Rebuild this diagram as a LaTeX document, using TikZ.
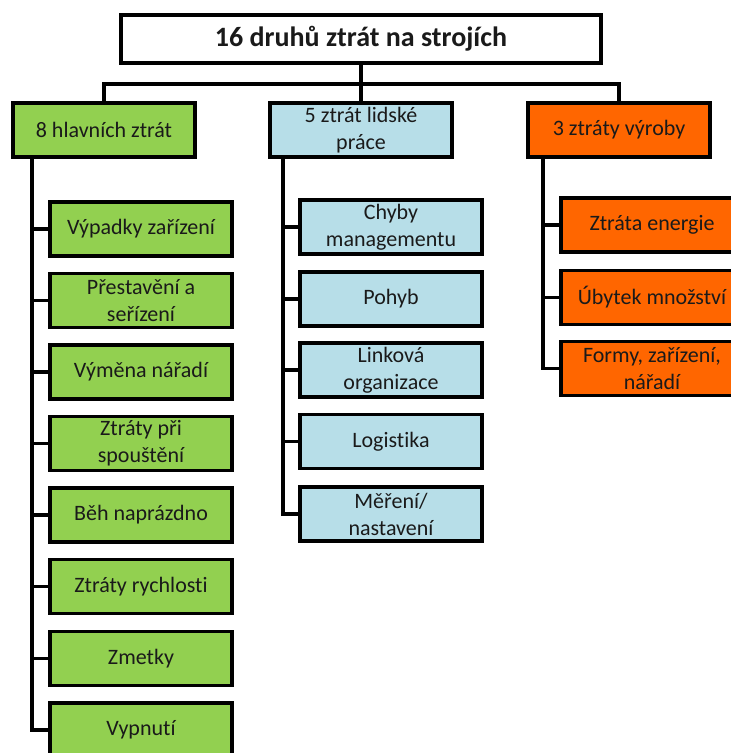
\documentclass[tikz,border=0pt]{standalone}
\usepackage{fontspec}
\setmainfont{Carlito}[Ligatures=NoCommon]
\definecolor{lossgreen}{HTML}{92D050}
\definecolor{lossblue}{HTML}{B7DEE8}
\definecolor{lossorange}{HTML}{FF6600}
\definecolor{ink}{HTML}{1A1A1A}
\tikzset{
  lossbox/.style={draw, line width=3.4pt, minimum width=182pt, minimum height=54pt,
    inner sep=1pt, align=center, text=ink, font=\fontsize{22}{27}\selectfont},
  link/.style={line width=3.8pt}
}
\begin{document}
\begin{tikzpicture}[x=1pt, y=-1pt]
\useasboundingbox (0,0) rectangle (731,753);
% top
\node[lossbox, minimum width=480pt, minimum height=48pt, fill=white,
  font=\fontsize{28}{32}\selectfont\bfseries] (title) at (361,39) {16 druhů ztrát na strojích};
% three groups
\node[lossbox, fill=lossgreen] (main) at (104,130) {8 hlavních ztrát};
\node[lossbox, fill=lossblue] (human) at (361,130) {5 ztrát lidské\\práce};
\node[lossbox, fill=lossorange] (prod) at (619,130) {3 ztráty výroby};
% main losses
\node[lossbox, fill=lossgreen] (m1) at (141,229) {Výpadky zařízení};
\node[lossbox, fill=lossgreen] (m2) at (141,300.5) {Přestavění a\\seřízení};
\node[lossbox, fill=lossgreen] (m3) at (141,372) {Výměna nářadí};
\node[lossbox, fill=lossgreen] (m4) at (141,443.5) {Ztráty při\\spouštění};
\node[lossbox, fill=lossgreen] (m5) at (141,515) {Běh naprázdno};
\node[lossbox, fill=lossgreen] (m6) at (141,586.5) {Ztráty rychlosti};
\node[lossbox, fill=lossgreen] (m7) at (141,658.5) {Zmetky};
\node[lossbox, fill=lossgreen] (m8) at (141,730) {Vypnutí};
% human work losses
\node[lossbox, fill=lossblue] (h1) at (391,227) {Chyby\\managementu};
\node[lossbox, fill=lossblue] (h2) at (391,299) {Pohyb};
\node[lossbox, fill=lossblue] (h3) at (391,370) {Linková\\organizace};
\node[lossbox, fill=lossblue] (h4) at (391,441.5) {Logistika};
\node[lossbox, fill=lossblue] (h5) at (391,514) {Měření/\\nastavení};
% production losses
\node[lossbox, fill=lossorange] (p1) at (652,225) {Ztráta energie};
\node[lossbox, fill=lossorange] (p2) at (652,297.5) {Úbytek množství};
\node[lossbox, fill=lossorange] (p3) at (652,368.5) {Formy, zařízení,\\nářadí};
% connectors
\coordinate (bar) at (361,84);
\coordinate (mtr) at (32,157);
\coordinate (htr) at (283,157);
\coordinate (ptr) at (543,157);
\draw[link] (title.south) -- (human.north);
\draw[link] (main.north) |- (bar) -| (prod.north);
\draw[link] (mtr) |- (m8.west);
\draw[link] (htr) |- (h5.west);
\draw[link] (ptr) |- (p3.west);
\foreach \n in {m1,m2,m3,m4,m5,m6,m7}
  \draw[link] (\n.west) -- (\n.west -| mtr);
\foreach \n in {h1,h2,h3,h4}
  \draw[link] (\n.west) -- (\n.west -| htr);
\foreach \n in {p1,p2}
  \draw[link] (\n.west) -- (\n.west -| ptr);
\end{tikzpicture}
\end{document}
